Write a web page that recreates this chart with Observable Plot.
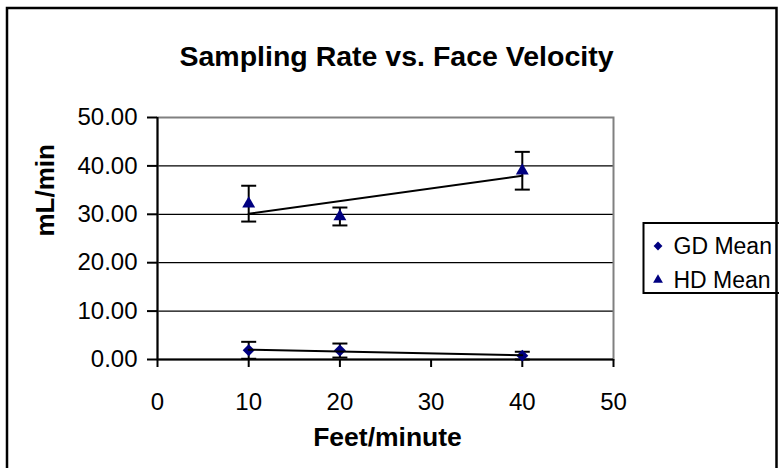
<!DOCTYPE html>
<html>
<head>
<meta charset="utf-8">
<script src="https://cdn.jsdelivr.net/npm/d3@7"></script>
<script src="https://cdn.jsdelivr.net/npm/@observablehq/plot@0.6"></script>
<style>
  html, body { margin: 0; padding: 0; background: white; }
</style>
</head>
<body>
<div id="chart"></div>
<script>
const titleText = "Sampling Rate vs. Face Velocity";
const xTitle = "Feet/minute";
const yTitle = "mL/min";
const feet = [10, 20, 40];
const seriesNames = ["GD Mean", "HD Mean"];
const gdMean = [1.9, 1.85, 0.8];
const gdErr = [1.75, 1.45, 0.8];
const hdMean = [32.2, 29.55, 39.0];
const hdErr = [3.7, 1.85, 3.9];
const xTicks = [0, 10, 20, 30, 40, 50];
const yTicks = [0, 10, 20, 30, 40, 50];
const gridValues = [10, 20, 30, 40];

const navy = "#000080";
const font = "'Liberation Sans', Arial, sans-serif";

const rows = [];
feet.forEach((f, i) => {
  rows.push({series: seriesNames[0], x: f, mean: gdMean[i], err: gdErr[i]});
  rows.push({series: seriesNames[1], x: f, mean: hdMean[i], err: hdErr[i]});
});
const gd = rows.filter(d => d.series === seriesNames[0]);
const hd = rows.filter(d => d.series === seriesNames[1]);

const capSymbol = {
  draw(ctx) { ctx.moveTo(-7.5, 0); ctx.lineTo(7.5, 0); }
};

function decor(index, scales, values, dims) {
  const g = d3.create("svg:g");
  // legend
  const lx = 643.5, ly = 223;
  g.append("rect")
    .attr("x", lx).attr("y", ly)
    .attr("width", 150).attr("height", 70)
    .attr("fill", "white").attr("stroke", "black").attr("stroke-width", 2);
  const syms = [d3.symbolDiamond2, d3.symbolTriangle];
  const sizes = [50, 42];
  seriesNames.forEach((name, i) => {
    const cy = ly + 23 + i * 34;
    g.append("path")
      .attr("d", d3.symbol(syms[i], sizes[i])())
      .attr("transform", `translate(${lx + 14.5},${cy})`)
      .attr("fill", navy);
    g.append("text")
      .attr("x", lx + 30).attr("y", cy + 8)
      .attr("text-anchor", "start")
      .attr("font-family", font).attr("font-size", 23)
      .attr("fill", "black")
      .text(name);
  });
  // outer chart border (drawn over legend edge)
  g.append("rect")
    .attr("x", 7).attr("y", 8)
    .attr("width", dims.width - 9.5).attr("height", dims.height + 20)
    .attr("fill", "none").attr("stroke", "black").attr("stroke-width", 2.5);
  return g.node();
}

const chart = Plot.plot({
  width: 779,
  height: 468,
  marginLeft: 157,
  marginRight: 166,
  marginTop: 117,
  marginBottom: 109,
  style: {fontFamily: font, fontSize: "24px", color: "black", background: "white"},
  x: {domain: [0, 50]},
  y: {domain: [0, 50]},
  marks: [
    Plot.ruleY(gridValues, {stroke: "black", strokeWidth: 1.2}),
    Plot.frame({stroke: "#808080", strokeWidth: 2}),
    Plot.ruleX([0], {stroke: "black", strokeWidth: 2}),
    Plot.ruleY([0], {stroke: "black", strokeWidth: 2}),
    Plot.axisX({ticks: xTicks, tickSize: 8, tickPadding: 25, strokeWidth: 2, fontSize: 24, label: null, tickFormat: d => String(d)}),
    Plot.axisY({ticks: yTicks, tickSize: 10, tickPadding: 10, strokeWidth: 2, fontSize: 24, label: null, tickFormat: d => d.toFixed(2)}),
    // error bars
    Plot.ruleX(rows, {x: "x", y1: d => d.mean - d.err, y2: d => d.mean + d.err, stroke: "black", strokeWidth: 2}),
    Plot.dot(rows, {x: "x", y: d => d.mean + d.err, symbol: capSymbol, stroke: "black", fill: "none", strokeWidth: 2}),
    Plot.dot(rows, {x: "x", y: d => d.mean - d.err, symbol: capSymbol, stroke: "black", fill: "none", strokeWidth: 2}),
    // markers
    Plot.dot(gd, {x: "x", y: "mean", symbol: "diamond2", r: 5.4, fill: navy}),
    Plot.dot(hd, {x: "x", y: "mean", symbol: "triangle", r: 4.8, fill: navy}),
    // trend lines
    Plot.linearRegressionY(gd, {x: "x", y: "mean", stroke: "black", strokeWidth: 2, ci: 0}),
    Plot.linearRegressionY(hd, {x: "x", y: "mean", stroke: "black", strokeWidth: 2, ci: 0}),
    // titles
    Plot.text([titleText], {frameAnchor: "top", text: d => d, dx: 11, dy: -72, fontSize: 28.5, fontWeight: "bold"}),
    Plot.text([xTitle], {frameAnchor: "bottom", text: d => d, dx: 2, dy: 86, fontSize: 26.5, fontWeight: "bold"}),
    Plot.text([yTitle], {frameAnchor: "left", text: d => d, dx: -112, dy: -2, rotate: -90, fontSize: 26, fontWeight: "bold"}),
    decor
  ]
});
document.getElementById("chart").appendChild(chart);
</script>
</body>
</html>
